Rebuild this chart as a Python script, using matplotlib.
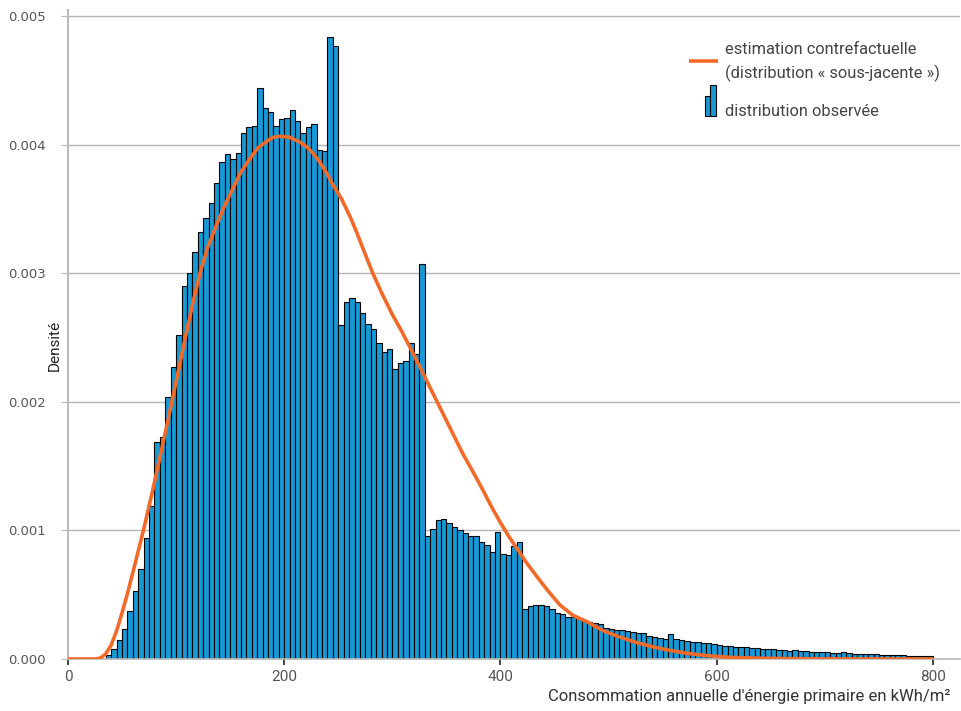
import numpy as np
import matplotlib
matplotlib.use('Agg')
import matplotlib.pyplot as plt
from matplotlib.patches import Rectangle

# histogram: bins of 5 kWh/m² starting at 30
bin_start = 30
bin_width = 5
observed_density = [
    0.0, 0.00003, 0.000075, 0.00015, 0.00023, 0.00037, 0.00053, 0.0007, 0.00094, 0.00119,
    0.00169, 0.00173, 0.00204, 0.00227, 0.00252, 0.0029, 0.003, 0.00317, 0.00332, 0.00343,
    0.00355, 0.0037, 0.00387, 0.00393, 0.00389, 0.00394, 0.00409, 0.00414, 0.00415, 0.00444,
    0.00429, 0.00426, 0.00415, 0.0042, 0.00421, 0.00427, 0.00419, 0.00409, 0.00414, 0.00416,
    0.00396, 0.00395, 0.00484, 0.00477, 0.0026, 0.00278, 0.00281, 0.00278, 0.00269, 0.00261,
    0.00257, 0.00246, 0.00239, 0.00241, 0.00226, 0.0023, 0.00232, 0.00246, 0.00237, 0.00307,
    0.00096, 0.00101, 0.00108, 0.00109, 0.00106, 0.00103, 0.001, 0.00098, 0.00096, 0.00096,
    0.00091, 0.00089, 0.00083, 0.00099, 0.00082, 0.00081, 0.00088, 0.00091, 0.00039, 0.00041,
    0.00042, 0.00042, 0.00041, 0.00039, 0.00036, 0.00035, 0.00033, 0.00033, 0.00032, 0.0003,
    0.00029, 0.00028, 0.00027, 0.000244, 0.000236, 0.000228, 0.000224, 0.00022, 0.000208, 0.0002,
    0.0002, 0.000182, 0.000174, 0.000166, 0.000156, 0.000192, 0.000156, 0.000148, 0.00014, 0.000135,
    0.00013, 0.000127, 0.000122, 0.000114, 0.000106, 0.000104, 0.000101, 0.000096, 0.000091, 0.000091,
    0.000088, 0.000088, 0.00008, 0.000078, 0.000075, 0.00007, 0.000067, 0.000065, 0.000067, 0.00006,
    0.00006, 0.000055, 0.000055, 0.000052, 0.000052, 0.000049, 0.000047, 0.000055, 0.000044, 0.000042,
    0.000039, 0.000036, 0.000036, 0.000039, 0.000034, 0.000031, 0.000031, 0.000029, 0.000029, 0.000026,
    0.000026, 0.000026, 0.000023, 0.000026,
]

# counterfactual density
curve_x = [0, 25, 30, 35, 40, 45, 50, 55, 62, 70, 78, 85, 92, 97, 104, 110, 116, 122, 129, 137,
           145, 153, 160, 168, 176, 184, 190, 196, 205, 215, 223, 230, 238, 245, 253, 261, 267,
           273, 282, 290, 300, 308, 316, 325, 335, 345, 355, 365, 375, 384, 392, 400, 408, 416,
           424, 432, 443, 455, 467, 480, 495, 510, 525, 541, 556, 572, 590, 610, 640, 680, 720,
           760, 800]
curve_y = [0.0, 0.0, 0.000008, 0.00004, 0.00011, 0.00022, 0.00036, 0.00051, 0.00074, 0.00101,
           0.0013, 0.00157, 0.00184, 0.00204, 0.00232, 0.00256, 0.00279, 0.003, 0.0032, 0.00337,
           0.00353, 0.00367, 0.00379, 0.00389, 0.00398, 0.00403, 0.00406, 0.004068, 0.00406, 0.00402,
           0.00397, 0.0039, 0.0038, 0.00369, 0.00358, 0.00344, 0.00332, 0.00319, 0.003, 0.00285,
           0.00268, 0.00256, 0.00243, 0.00228, 0.00211, 0.00194, 0.00177, 0.0016, 0.00145, 0.00131,
           0.00118, 0.00106, 0.00095, 0.00085, 0.00075, 0.00066, 0.00054, 0.00042, 0.00034, 0.00029,
           0.00022, 0.000172, 0.00013, 0.000095, 0.000068, 0.000045, 0.000027, 0.000014, 0.000006,
           0.000002, 0.0, 0.0, 0.0]

x_ticks = [0, 200, 400, 600, 800]
y_ticks = [0.0, 0.001, 0.002, 0.003, 0.004, 0.005]

blue = '#1799d6'
orange = '#f26a2a'
grey_txt = '#555555'

fig = plt.figure(figsize=(9.61, 7.11), dpi=100)
ax = fig.add_axes([68 / 961, 1 - 659 / 711, 892 / 961, 649 / 711])

edges = bin_start + bin_width * np.arange(len(observed_density))
ax.bar(edges, observed_density, width=bin_width, align='edge', color=blue,
       edgecolor='black', linewidth=0.8, zorder=2)
ax.plot(curve_x, curve_y, color=orange, lw=2.6, zorder=3, solid_capstyle='butt',
        solid_joinstyle='round')

ax.set_xlim(0, 825)
ax.set_ylim(0, 0.00505)
ax.set_xticks(x_ticks)
ax.set_yticks(y_ticks)
ax.set_yticklabels(['%.3f' % v for v in y_ticks], fontfamily='DejaVu Sans', fontsize=9.5, color=grey_txt)
ax.set_xticklabels([str(v) for v in x_ticks], fontfamily='Roboto', fontsize=11, color=grey_txt)
ax.yaxis.grid(True, color='#b5b5b5', lw=1, zorder=0)
ax.set_axisbelow(True)
for s in ['top', 'right']:
    ax.spines[s].set_visible(False)
ax.spines['left'].set_color('#bbbbbb')
ax.spines['left'].set_linewidth(1.5)
ax.spines['bottom'].set_color('#bbbbbb')
ax.spines['bottom'].set_linewidth(1.2)
ax.tick_params(axis='y', length=5, color='#bbbbbb', pad=11)
ax.tick_params(axis='x', length=4, width=1.3, color='#333333', pad=4)

fig.text(55 / 961, 1 - 345 / 711, 'Densité', rotation=90, ha='center', va='center',
         fontfamily='Roboto', fontsize=11, color='#222222')
fig.text(950 / 961, 1 - 697 / 711, "Consommation annuelle d'énergie primaire en kWh/m²",
         fontfamily='Roboto', fontsize=12, color='#333333', ha='right', va='center')

# legend drawn by hand
def axc(px, py):
    return (px - 68) / 892, (659 - py) / 649

x0, y0 = axc(689, 61)
x1, _ = axc(718, 61)
ax.plot([x0, x1], [y0, y0], color=orange, lw=2.6, transform=ax.transAxes, solid_capstyle='butt')
tx, ty = axc(725, 49)
ax.text(tx, ty, 'estimation contrefactuelle', transform=ax.transAxes, fontfamily='Roboto',
        fontsize=11.8, color='#444444', va='center', ha='left')
tx, ty = axc(725, 73)
ax.text(tx, ty, '(distribution « sous-jacente »)', transform=ax.transAxes, fontfamily='Roboto',
        fontsize=11.8, color='#444444', va='center', ha='left')
bx, by = axc(705, 116)
bx2, _ = axc(710, 116)
bx3, _ = axc(716, 116)
_, t1 = axc(0, 96)
_, t2 = axc(0, 85)
ax.add_patch(Rectangle((bx, by), bx2 - bx, t1 - by, transform=ax.transAxes, facecolor=blue,
                       edgecolor='black', lw=0.8, clip_on=False))
ax.add_patch(Rectangle((bx2, by), bx3 - bx2, t2 - by, transform=ax.transAxes, facecolor=blue,
                       edgecolor='black', lw=0.8, clip_on=False))
tx, ty = axc(725, 111)
ax.text(tx, ty, 'distribution observée', transform=ax.transAxes, fontfamily='Roboto',
        fontsize=11.8, color='#444444', va='center', ha='left')

fig.savefig('out.png', dpi=100)
